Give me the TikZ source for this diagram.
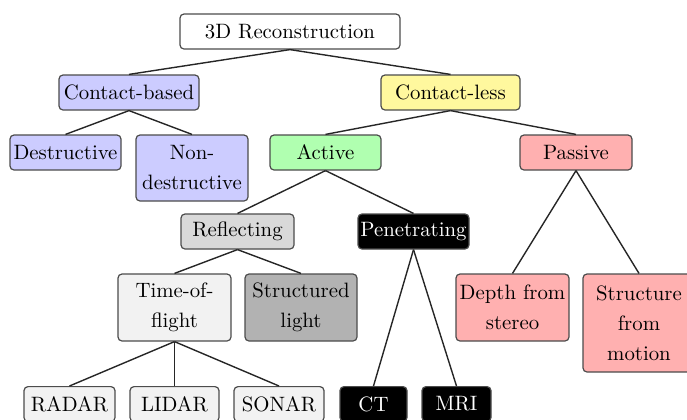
\documentclass[tikz,border=0pt]{standalone}
\usepackage{tikz}
\definecolor{cbblue}{RGB}{204,204,255}
\definecolor{clyellow}{RGB}{255,248,158}
\definecolor{actgreen}{RGB}{176,255,176}
\definecolor{pasred}{RGB}{255,176,176}
\tikzset{
  px/.style={x=0.5pt,y=-0.5pt},
  box/.style={draw=black!70, line width=0.6pt, rounded corners=2pt,
    inner sep=0pt, align=center, font=\fontsize{10.4}{15}\selectfont,
    minimum height=17.5pt},
  w/.style={minimum width=#1*0.5pt},
  h/.style={minimum height=#1*0.5pt},
  link/.style={draw=black!85, line width=0.7pt},
  darkbox/.style={box, fill=black, text=white},
}
\begin{document}
\begin{tikzpicture}[px]
\useasboundingbox (0,0) rectangle (687,419);
% upper levels
\node[box, fill=white, w=220] (root) at (290,31.5) {3D Reconstruction};
\node[box, fill=cbblue, w=140] (cb) at (129,92.5) {Contact-based};
\node[box, fill=clyellow, w=139] (cl) at (450.5,92.5) {Contact-less};
\node[box, fill=cbblue, w=111] (des) at (65.5,152.5) {Destructive};
\node[box, fill=cbblue, w=112, h=66] (nd) at (192,168) {Non-\\destructive};
\node[box, fill=actgreen, w=111] (act) at (325.5,152.5) {Active};
\node[box, fill=pasred, w=112] (pas) at (576,152.5) {Passive};
% active branch
\node[box, fill=black!15, w=113] (ref) at (237.5,231.5) {Reflecting};
\node[darkbox, w=111] (pen) at (413.5,231.5) {Penetrating};
\node[box, fill=black!5, w=113, h=67] (tof) at (174.5,307.5) {Time-of-\\flight};
\node[box, fill=black!30, w=112, h=67] (sl) at (301,307.5) {Structured\\light};
% passive branch
\node[box, fill=pasred, w=113, h=67] (dfs) at (512.5,307.5) {Depth from\\stereo};
\node[box, fill=pasred, w=112, h=98] (sfm) at (639,323) {Structure\\from\\motion};
% leaves
\node[box, fill=black!5, w=91, anchor=north] (radar) at (69.5,386) {RADAR};
\node[box, fill=black!5, w=89, anchor=north] (lidar) at (174.5,386) {LIDAR};
\node[box, fill=black!5, w=90, anchor=north] (sonar) at (279,386) {SONAR};
\node[darkbox, w=67, anchor=north] (ct) at (373.5,386) {CT};
\node[darkbox, w=69, anchor=north] (mri) at (456.5,386) {MRI};
% connectors
\foreach \p/\c in {root/cb, root/cl, cb/des, cb/nd, cl/act, cl/pas,
                   act/ref, act/pen, ref/tof, ref/sl, pen/ct, pen/mri,
                   pas/dfs, pas/sfm, tof/radar, tof/lidar, tof/sonar}
  \draw[link] (\p.south) -- (\c.north);
\end{tikzpicture}
\end{document}
